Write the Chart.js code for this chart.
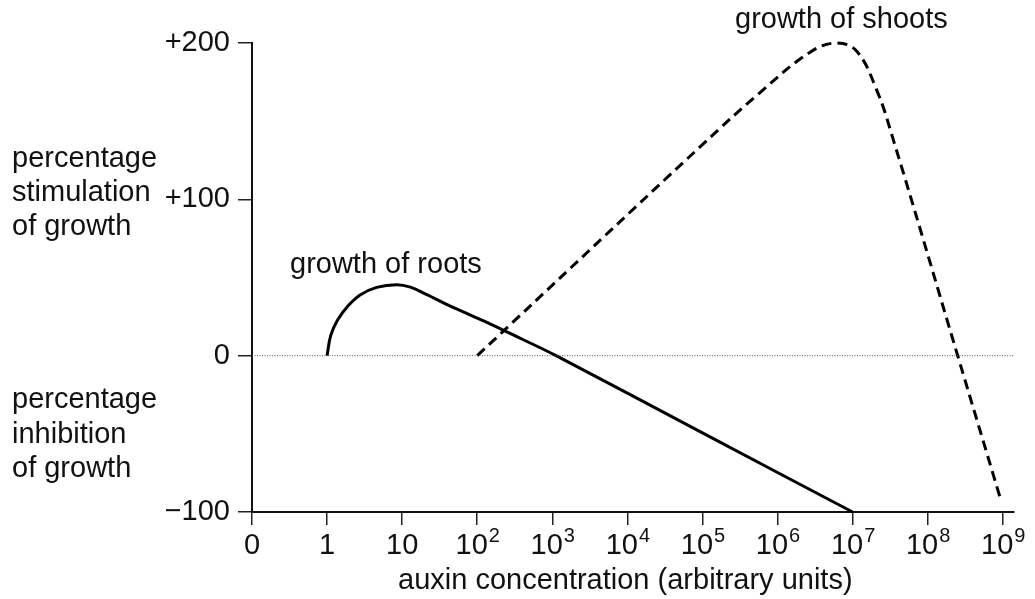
<!DOCTYPE html>
<html>
<head>
<meta charset="utf-8">
<script src="https://cdn.jsdelivr.net/npm/chart.js@4.4.0/dist/chart.umd.min.js"></script>
<style>
  body { margin: 0; background: #fff; }
</style>
</head>
<body>
<canvas id="auxinChart" width="1035" height="599"></canvas>
<script>
// x values are positions on the axis: 0 -> "0", 1 -> "1", 2 -> "10", 3 -> "10^2" ... 10 -> "10^9"
const xTickPos = [0, 1, 2, 3, 4, 5, 6, 7, 8, 9, 10];
const xTickBase = ['0', '1', '10', '10', '10', '10', '10', '10', '10', '10', '10'];
const xTickExp = ['', '', '', '2', '3', '4', '5', '6', '7', '8', '9'];
const yTicks = [-100, 0, 100, 200];

// growth of roots (solid)
const rootsPos = [1.0, 1.05, 1.14, 1.27, 1.44, 1.66, 1.93, 2.11, 2.33, 2.55, 2.77, 3.17, 3.6, 4.05, 6.0, 8.0];
const rootsPct = [0, 13.1, 22.8, 31.3, 38.8, 43.7, 45.4, 43.8, 39, 33.8, 28.9, 20.4, 10.5, 0, -49.4, -100];

// growth of shoots (dashed)
const shootsPos = [3.0, 6.0, 6.76, 7.43, 7.78, 8.05, 8.32, 8.54, 9.4, 9.96];
const shootsPct = [0, 135, 168, 194, 200, 195, 170, 138.5, 0, -90];

// dotted zero line
const zeroPos = [0, 10.15];
const zeroPct = [0, 0];

const FONT = '"Liberation Sans", Arial, Helvetica, sans-serif';

function toPoints(xs, ys) {
    return xs.map((x, i) => ({ x: x, y: ys[i] }));
}

function tickLabelY(v) {
    if (v > 0) return '+' + v;
    if (v < 0) return '\u2212' + Math.abs(v);
    return '0';
}

// Textos fijos y etiquetas del eje x con exponentes
const textPlugin = {
    id: 'textPlugin',
    afterDraw(chart) {
        const ctx = chart.ctx;
        const xScale = chart.scales.x;
        ctx.save();
        ctx.fillStyle = '#111';
        ctx.textBaseline = 'alphabetic';

        // x tick labels
        xTickPos.forEach((p, i) => {
            const px = xScale.getPixelForValue(p);
            ctx.font = '29px ' + FONT;
            const wb = ctx.measureText(xTickBase[i]).width;
            ctx.font = '20px ' + FONT;
            const we = xTickExp[i] ? ctx.measureText(xTickExp[i]).width : 0;
            const left = px - (wb + we) / 2;
            ctx.font = '29px ' + FONT;
            ctx.textAlign = 'left';
            ctx.fillText(xTickBase[i], left, 554);
            if (xTickExp[i]) {
                ctx.font = '20px ' + FONT;
                ctx.fillText(xTickExp[i], left + wb + 1, 542);
            }
        });

        ctx.font = '29px ' + FONT;
        ctx.textAlign = 'left';
        ctx.fillText('auxin concentration (arbitrary units)', 398, 589);

        ctx.fillText('growth of shoots', 735, 28);
        ctx.fillText('growth of roots', 290, 273);

        ctx.fillText('percentage', 12, 167);
        ctx.fillText('stimulation', 12, 201);
        ctx.fillText('of growth', 12, 235);

        ctx.fillText('percentage', 12, 408);
        ctx.fillText('inhibition', 12, 443);
        ctx.fillText('of growth', 12, 477);
        ctx.restore();
    }
};

const ctx = document.getElementById('auxinChart').getContext('2d');
new Chart(ctx, {
    type: 'line',
    data: {
        datasets: [
            {
                label: 'zero',
                data: toPoints(zeroPos, zeroPct),
                borderColor: '#555',
                borderWidth: 1,
                borderDash: [1, 1.5],
                pointRadius: 0,
                clip: false
            },
            {
                label: 'growth of roots',
                data: toPoints(rootsPos, rootsPct),
                borderColor: '#000',
                borderWidth: 3,
                pointRadius: 0,
                tension: 0.4,
                clip: false
            },
            {
                label: 'growth of shoots',
                data: toPoints(shootsPos, shootsPct),
                borderColor: '#000',
                borderWidth: 3,
                borderDash: [10, 6],
                pointRadius: 0,
                tension: 0.4,
                clip: false
            }
        ]
    },
    options: {
        responsive: false,
        animation: false,
        layout: {
            padding: { left: 0, right: 21, top: 43, bottom: 0 }
        },
        plugins: {
            legend: { display: false },
            tooltip: { enabled: false }
        },
        scales: {
            x: {
                type: 'linear',
                min: 0,
                max: 10.15,
                afterBuildTicks: scale => {
                    scale.ticks = xTickPos.map(v => ({ value: v }));
                },
                afterFit: scale => { scale.height = 87; },
                ticks: { display: false },
                grid: {
                    drawOnChartArea: false,
                    drawTicks: true,
                    tickLength: 13,
                    color: '#222',
                    lineWidth: 1.5
                },
                border: { display: true, color: '#111', width: 2 }
            },
            y: {
                min: -100,
                max: 200,
                afterBuildTicks: scale => {
                    scale.ticks = yTicks.map(v => ({ value: v }));
                },
                afterFit: scale => { scale.width = 252; },
                ticks: {
                    padding: 8,
                    color: '#111',
                    font: { family: FONT, size: 29 },
                    callback: v => tickLabelY(v)
                },
                grid: {
                    drawOnChartArea: false,
                    drawTicks: true,
                    tickLength: 14,
                    color: '#222',
                    lineWidth: 1.5
                },
                border: { display: true, color: '#111', width: 2 }
            }
        }
    },
    plugins: [textPlugin]
});
</script>
</body>
</html>
